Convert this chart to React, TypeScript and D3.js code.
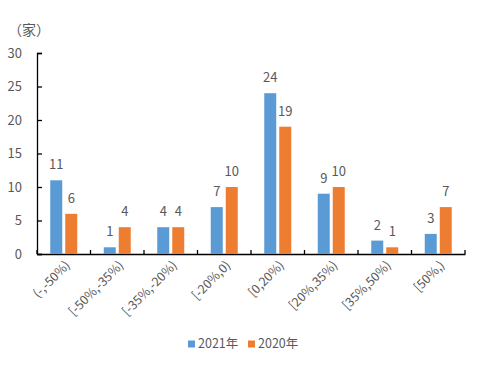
import { useEffect, useRef } from 'react'
import * as d3 from 'd3'

const CATEGORIES = ['(-,-50%)', '[-50%,-35%)', '[-35%,-20%)', '[-20%,0)', '[0,20%)', '[20%,35%)', '[35%,50%)', '[50%,)']
const VALUES_2021 = [11, 1, 4, 7, 24, 9, 2, 3]
const VALUES_2020 = [6, 4, 4, 10, 19, 10, 1, 7]
const SERIES = ['2021年', '2020年']
const Y_TICKS = [0, 5, 10, 15, 20, 25, 30]
const UNIT = '（家）'

const COLORS = ['#5B9BD5', '#ED7D31']
const FONT = '"Noto Sans CJK SC", "Noto Sans", sans-serif'
const TEXT = '#595959'

export default function App() {
  const ref = useRef<HTMLDivElement>(null)
  useEffect(() => {
    if (!ref.current) return
    const el = ref.current, W = 480, H = 365
    const m = { top: 53, right: 15, bottom: 111, left: 37 }
    d3.select(el).selectAll('*').remove()
    const svg = d3.select(el).append('svg').attr('width', W).attr('height', H)
      .style('display', 'block').style('font-family', FONT)
    const iW = W - m.left - m.right, iH = H - m.top - m.bottom
    const g = svg.append('g').attr('transform', `translate(${m.left},${m.top})`)

    const x = d3.scaleBand().domain(CATEGORIES).range([0, iW])
    const y = d3.scaleLinear().domain([0, 30]).range([iH, 0])
    const barW = 12, gap = 3

    // y axis
    const ya = g.append('g').call(d3.axisLeft(y).tickValues(Y_TICKS).tickSizeInner(-5).tickSizeOuter(-5).tickPadding(15))
    ya.select('.domain').attr('stroke', '#000').attr('stroke-width', 1.3)
    ya.selectAll('.tick line').attr('stroke', '#000').attr('stroke-width', 1.3)
    ya.selectAll('.tick text').style('font-size', '13px').style('fill', TEXT).style('font-family', FONT)

    // x axis
    const xa = g.append('g').attr('transform', `translate(0,${iH})`)
      .call(d3.axisBottom(x).tickSize(0).tickFormat(() => ''))
    xa.select('.domain').attr('stroke', '#000').attr('stroke-width', 1.3)
    xa.selectAll('.tick').remove()
    const bounds = d3.range(CATEGORIES.length + 1).map(i => i * x.step())
    g.append('g').selectAll('line').data(bounds).join('line')
      .attr('x1', d => d).attr('x2', d => d).attr('y1', iH).attr('y2', iH - 4)
      .attr('stroke', '#000').attr('stroke-width', 1.3)

    g.append('g').selectAll('text').data(CATEGORIES).join('text')
      .attr('transform', d => `translate(${x(d)! + x.bandwidth() / 2 + 4},${iH + 9}) rotate(-45)`)
      .attr('text-anchor', 'end').attr('dy', '0.35em')
      .style('font-size', '12.5px').style('fill', TEXT).text(d => d)

    const series = [VALUES_2021, VALUES_2020]
    series.forEach((vals, si) => {
      const off = si === 0 ? -gap / 2 - barW : gap / 2
      const gg = g.append('g')
      gg.selectAll('rect').data(vals).join('rect')
        .attr('x', (_, i) => x(CATEGORIES[i])! + x.bandwidth() / 2 + off)
        .attr('y', d => y(d)).attr('width', barW).attr('height', d => iH - y(d))
        .attr('fill', COLORS[si])
      gg.selectAll('text').data(vals).join('text')
        .attr('x', (_, i) => x(CATEGORIES[i])! + x.bandwidth() / 2 + off + barW / 2)
        .attr('y', d => y(d) - 11)
        .attr('text-anchor', 'middle')
        .style('font-size', '13px').style('fill', TEXT).text(d => d)
    })

    svg.append('text').attr('x', 8).attr('y', 35).style('font-size', '14px').style('fill', TEXT).text(UNIT)

    // legend
    const lg = svg.append('g').attr('transform', 'translate(188,344)')
    SERIES.forEach((s, i) => {
      const ox = i * 60
      lg.append('rect').attr('x', ox).attr('y', -3.5).attr('width', 7).attr('height', 7).attr('fill', COLORS[i])
      lg.append('text').attr('x', ox + 10).attr('y', 0).attr('dy', '0.35em')
        .style('font-size', '12.5px').style('fill', TEXT).text(s)
    })
  }, [])
  return <div ref={ref} style={{ position: 'absolute', left: 0, top: 0, width: 480, height: 365 }} />
}
